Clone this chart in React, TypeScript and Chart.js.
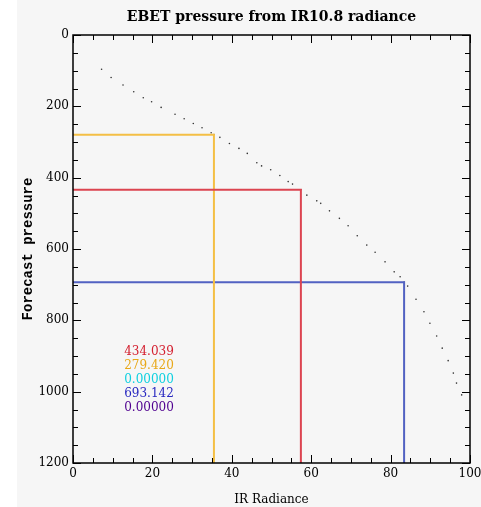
import React, { useEffect, useRef } from "react";
import { Chart, registerables } from "chart.js";

Chart.register(...registerables);

// IR radiance of the dotted EBET curve and its forecast pressure
const curveRadiance = [7.2, 9.6, 12.6, 15.3, 17.7, 19.8, 22.2, 25.7, 28.0, 30.3, 32.5, 34.8, 35.5, 37.0, 39.4, 41.8, 43.9, 46.3, 47.5, 49.8, 52.1, 54.2, 55.3, 57.4, 58.9, 61.4, 62.4, 64.6, 67.1, 69.3, 71.6, 74.0, 76.1, 78.6, 80.9, 82.4, 83.4, 84.3, 86.4, 88.4, 89.9, 91.6, 93.0, 94.5, 95.8, 96.6, 97.9];
const curvePressure = [96, 119, 140, 159, 176, 187, 203, 222, 235, 248, 260, 274, 279, 287, 304, 318, 332, 358, 367, 378, 394, 411, 418, 434, 449, 465, 472, 493, 514, 535, 563, 589, 609, 636, 664, 678, 693, 704, 741, 776, 808, 844, 878, 913, 948, 976, 1009];

// Marked levels: radiance and pressure for each coloured guide
const guideNames = ["IR10.8", "WV6.2", "WV7.3"];
const guideRadiance = [57.4, 35.5, 83.4];
const guidePressure = [434.039, 279.42, 693.142];
const guideColors = ["#dc4450", "#f4bf45", "#5262c2"];

// Value list printed in the plot
const valueLabels = ["434.039", "279.420", "0.00000", "693.142", "0.00000"];
const valueColors = ["#d42030", "#e8a818", "#10d0e0", "#2828c0", "#500090"];

const xTicks = [0, 20, 40, 60, 80, 100];
const yTicks = [0, 200, 400, 600, 800, 1000, 1200];

const TITLE = "EBET pressure from IR10.8 radiance";
const SERIF = "'DejaVu Serif', serif";

const decorPlugin = {
  id: "decor",
  beforeDraw(chart: any) {
    const ctx = chart.ctx;
    ctx.save();
    ctx.fillStyle = "#ffffff";
    ctx.fillRect(0, 0, chart.width, chart.height);
    ctx.fillStyle = "#f6f6f6";
    ctx.fillRect(17, 0, chart.width - 17, chart.height);
    ctx.restore();
  },
  afterDatasetsDraw(chart: any) {
    const ctx = chart.ctx;
    const { left, right, top, bottom } = chart.chartArea;
    const xs = chart.scales.x;
    const ys = chart.scales.y;
    ctx.save();
    // title
    ctx.fillStyle = "#000";
    ctx.font = "bold 14px " + SERIF;
    ctx.textAlign = "center";
    ctx.textBaseline = "middle";
    ctx.fillText(TITLE, (left + right) / 2, 17);

    ctx.strokeStyle = "#000";
    ctx.lineWidth = 1.5;
    ctx.strokeRect(left, top, right - left, bottom - top);
    ctx.lineWidth = 1;
    // x ticks (inward, bottom and top)
    for (let v = 0; v <= 100; v += 5) {
      const px = Math.round(xs.getPixelForValue(v)) + 0.5;
      const len = v % 20 === 0 ? 8 : 5;
      ctx.beginPath();
      ctx.moveTo(px, bottom);
      ctx.lineTo(px, bottom - len);
      ctx.moveTo(px, top);
      ctx.lineTo(px, top + len);
      ctx.stroke();
    }
    for (let v = 0; v <= 1200; v += 50) {
      const py = Math.round(ys.getPixelForValue(v)) + 0.5;
      const len = v % 200 === 0 ? 8 : 5;
      ctx.beginPath();
      ctx.moveTo(left, py);
      ctx.lineTo(left + len, py);
      ctx.moveTo(right, py);
      ctx.lineTo(right - len, py);
      ctx.stroke();
    }
    // value list
    ctx.font = "12px " + SERIF;
    ctx.textAlign = "right";
    ctx.textBaseline = "middle";
    const tx = xs.getPixelForValue(25.4);
    const ty = ys.getPixelForValue(889);
    valueLabels.forEach((t, i) => {
      ctx.fillStyle = valueColors[i];
      ctx.fillText(t, tx, ty + i * 14);
    });
    ctx.restore();
  },
};

export default function App() {
  const ref = useRef<HTMLCanvasElement>(null);
  useEffect(() => {
    document.body.style.margin = "0";
    const guideSets = guideNames.map((name, i) => ({
      type: "line" as const,
      label: name,
      data: [
        { x: 0, y: guidePressure[i] },
        { x: guideRadiance[i], y: guidePressure[i] },
        { x: guideRadiance[i], y: 1200 },
      ],
      borderColor: guideColors[i],
      borderWidth: 2,
      pointRadius: 0,
      showLine: true,
      fill: false,
    }));
    const chart = new Chart(ref.current as HTMLCanvasElement, {
      type: "scatter",
      data: {
        datasets: [
          ...guideSets,
          {
            label: "EBET",
            data: curveRadiance.map((r, i) => ({ x: r, y: curvePressure[i] })),
            backgroundColor: "#333",
            borderColor: "#333",
            pointRadius: 0.8,
            pointBorderWidth: 0,
            showLine: false,
          },
        ] as any,
      },
      options: {
        animation: false,
        responsive: false,
        layout: { padding: { left: 0, right: 0, top: 35, bottom: 0 } },
        plugins: {
          legend: { display: false },
          tooltip: { enabled: false },
          title: { display: false },
        },
        scales: {
          x: {
            type: "linear",
            min: 0,
            max: 100,
            afterBuildTicks: (s: any) => {
              s.ticks = xTicks.map((v) => ({ value: v }));
            },
            ticks: {
              color: "#000",
              font: { family: SERIF, size: 12 },
              padding: 4,
              maxRotation: 0,
              callback: (v: any) => String(v),
            },
            grid: { display: false, drawTicks: false },
            border: { display: false },
            title: {
              display: true,
              text: "IR Radiance",
              color: "#000",
              font: { family: SERIF, size: 12 },
              padding: { top: 6, bottom: 0 },
            },
            afterFit: (s: any) => {
              s.height = 44;
              s.paddingRight = 11;
            },
          },
          y: {
            type: "linear",
            reverse: true,
            min: 0,
            max: 1200,
            afterBuildTicks: (s: any) => {
              s.ticks = yTicks.map((v) => ({ value: v }));
            },
            ticks: {
              color: "#000",
              font: { family: SERIF, size: 12 },
              padding: 4,
              callback: (v: any) => String(v),
            },
            grid: { display: false, drawTicks: false },
            border: { display: false },
            title: {
              display: true,
              text: "Forecast pressure",
              color: "#000",
              font: { family: "'Liberation Mono', monospace", size: 14, weight: "bold" },
              padding: { top: 20, bottom: 0 },
            },
            afterFit: (s: any) => {
              s.width = 73;
            },
          },
        },
      },
      plugins: [decorPlugin],
    } as any);
    return () => chart.destroy();
  }, []);
  return <canvas ref={ref} width={481} height={507} style={{ display: "block" }} />;
}
